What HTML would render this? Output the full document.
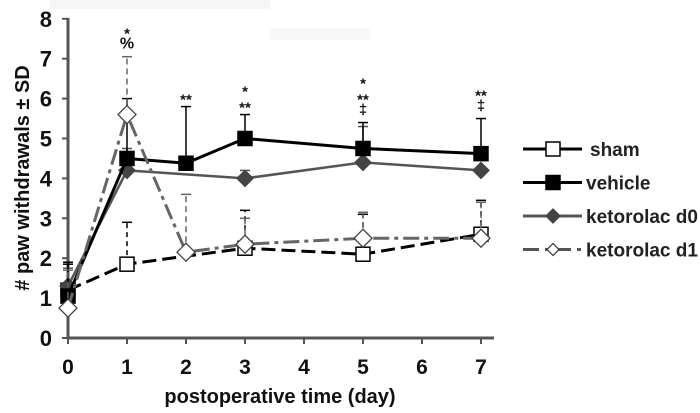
<!DOCTYPE html>
<html><head><meta charset="utf-8"><style>
body{margin:0;background:#fff;}
svg{display:block;font-family:"Liberation Sans",sans-serif;}
</style></head><body>
<svg id="chart" width="700" height="413" viewBox="0 0 700 413" xmlns="http://www.w3.org/2000/svg">
<rect x="50" y="0" width="220" height="9" fill="#f6f6f6"/>
<rect x="270" y="28" width="100" height="12" fill="#f8f8f8"/>
<g id="axes"></g><g id="marks"></g><g id="legend"></g>
</svg>
<script>
const days = [0,1,2,3,5,7];
const shamVals = [1.2,1.85,null,2.25,2.1,2.6];
const shamErr = [1.9,2.9,null,3.2,3.1,3.45];
const vehicleVals = [1.05,4.5,4.38,5.0,4.75,4.62];
const vehicleErr = [1.85,6.0,5.8,5.6,5.4,5.5];
const d0Vals = [1.3,4.2,null,4.0,4.4,4.2];
const d0Err = [1.75,4.75,null,4.2,5.3,null];
const d1Vals = [0.75,5.6,2.15,2.35,2.5,2.5];
const d1Err = [1.7,7.05,3.6,3.0,3.15,3.4];
const xTicks = [0,1,2,3,4,5,6,7];
const yTicks = [0,1,2,3,4,5,6,7,8];
const annots = [["*","%"],["**"],["*","**"],["*","**","‡"],["**","‡"]];
const annotDays = [1,2,3,5,7];

const NS="http://www.w3.org/2000/svg";
const X=d=>68+d*59, Y=v=>338-v*39.9;
function mk(tag,at,parent,txt){const e=document.createElementNS(NS,tag);for(const k in at)e.setAttribute(k,at[k]);if(txt!==undefined)e.textContent=txt;parent.appendChild(e);return e;}
const axes=document.getElementById('axes'),marks=document.getElementById('marks'),legend=document.getElementById('legend');

let a=mk('line',{x1:68,y1:18,x2:68,y2:338,stroke:'#555','stroke-width':3},axes);

a=mk('line',{x1:68,y1:338,x2:494,y2:338,stroke:'#555','stroke-width':3},axes);

yTicks.forEach(v=>{
  let t=mk('line',{x1:62,y1:Y(v),x2:68,y2:Y(v),stroke:'#555','stroke-width':2},axes);
  
  t=mk('text',{x:52,y:Y(v)+8,'text-anchor':'end','font-size':22,'font-weight':'bold',fill:'#111'},axes,v);
  
});
xTicks.forEach(d=>{
  let t=mk('line',{x1:X(d),y1:338,x2:X(d),y2:344,stroke:'#555','stroke-width':2},axes);
  
  t=mk('text',{x:X(d),y:374,'text-anchor':'middle','font-size':21,'font-weight':'bold',fill:'#111'},axes,d);
  
});
a=mk('text',{x:280,y:403,'text-anchor':'middle','font-size':20,'font-weight':'bold',fill:'#111'},axes,'postoperative time (day)');

a=mk('text',{transform:'translate(29,178) rotate(-90)','text-anchor':'middle','font-size':20,'font-weight':'bold',fill:'#111'},axes,'# paw withdrawals ± SD');


function series(name,vals,errs,color,width,dash,errDash,marker){
  const g=mk('g',{},marks);
  
  days.forEach((d,i)=>{ if(errs[i]!=null&&vals[i]!=null){
    let e=mk('line',{x1:X(d),y1:Y(vals[i]),x2:X(d),y2:Y(errs[i]),stroke:color,'stroke-width':1.5,'stroke-dasharray':errDash},g);
    
    e=mk('line',{x1:X(d)-5,y1:Y(errs[i]),x2:X(d)+5,y2:Y(errs[i]),stroke:color,'stroke-width':1.5},g);
    
  }});
  const pts=days.map((d,i)=>vals[i]==null?null:[X(d),Y(vals[i])]).filter(p=>p);
  let l=mk('polyline',{points:pts.map(p=>p.join(',')).join(' '),fill:'none',stroke:color,'stroke-width':width,'stroke-dasharray':dash},g);
  
  pts.forEach(p=>{const m=marker(g,p[0],p[1]);});
}
const sq=(fill)=>(g,x,y)=>mk('rect',{x:x-7,y:y-7,width:14,height:14,fill:fill,stroke:'#000','stroke-width':1.5},g);
const dia=(fill,stroke,r)=>(g,x,y)=>mk('polygon',{points:`${x},${y-r} ${x+r},${y} ${x},${y+r} ${x-r},${y}`,fill:fill,stroke:stroke,'stroke-width':1.3},g);

series('sham',shamVals,shamErr,'#000',3,'14,6','5,4',sq('#fff'));
series('ketorolac-d0',d0Vals,d0Err,'#555',2.5,'none','none',dia('#444','#444',8));
series('vehicle',vehicleVals,vehicleErr,'#000',3,'none','none',sq('#000'));
series('ketorolac-d1',d1Vals,d1Err,'#666',3,'16,5,4,5','6,4',dia('#fff','#444',9));

annotDays.forEach((d,i)=>{
  annots[i].forEach((s,j)=>{
    const n=annots[i].length;
    const yb=Y(vehicleErr[days.indexOf(d)])-8-(n-1-j)*16;
    const t=mk('text',{x:X(d),y:(i===0?Y(d1Err[1])-8-(n-1-j)*16:yb)+(s.startsWith('*')?6:0),'text-anchor':'middle','font-size':s==='%'?16:15,'font-weight':'bold',fill:'#111'},marks,s);
    
  });
});

const leg=[['sham','#000','none',sq('#fff')],['vehicle','#000','none',sq('#000')],['ketorolac d0','#555','none',dia('#444','#444',7)],['ketorolac d1','#555','16,6,4,6',dia('#fff','#444',6)]];
leg.forEach((e,i)=>{
  const y=149+i*33.5;
  const g=mk('g',{},legend);
  
  mk('line',{x1:523,y1:y,x2:582,y2:y,stroke:e[1],'stroke-width':3,'stroke-dasharray':e[2]},g);
  e[3](g,553,y);
  mk('text',{x:i==0?590:586,y:y+7,'font-size':19,'font-weight':'bold',fill:'#222'},g,e[0]);
});
</script>
</body></html>
